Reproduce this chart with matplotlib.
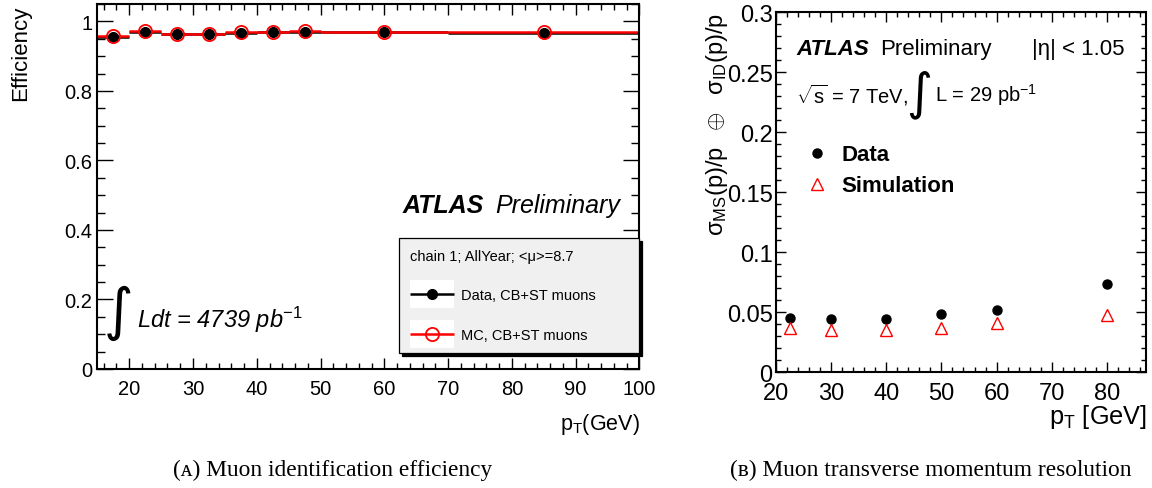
import matplotlib
matplotlib.use("Agg")
import matplotlib.pyplot as plt
from matplotlib.patches import Rectangle
from matplotlib.ticker import MultipleLocator, FormatStrFormatter
from matplotlib.container import ErrorbarContainer
from matplotlib.legend_handler import HandlerErrorbar

plt.rcParams['font.family'] = ['Liberation Sans', 'DejaVu Sans']
plt.rcParams['mathtext.fontset'] = 'custom'
plt.rcParams['mathtext.rm'] = 'Liberation Sans'
plt.rcParams['mathtext.it'] = 'Liberation Sans:italic'
plt.rcParams['mathtext.bf'] = 'Liberation Sans:bold'

# muon identification efficiency, pT bins in GeV
eff_bin_lo = [15, 20, 25, 30, 35, 40, 45, 50, 70]
eff_bin_hi = [20, 25, 30, 35, 40, 45, 50, 70, 100]
eff_data = [0.956, 0.970, 0.963, 0.963, 0.967, 0.969, 0.970, 0.970, 0.967]
eff_mc = [0.957, 0.971, 0.965, 0.965, 0.968, 0.970, 0.971, 0.970, 0.968]

# combined momentum resolution, |eta| < 1.05
res_pt = [22.5, 30, 40, 50, 60, 80]
res_data = [0.045, 0.044, 0.0444, 0.0486, 0.0517, 0.0733]
res_sim = [0.0364, 0.0347, 0.0347, 0.0369, 0.0408, 0.0475]


class BoxedErrorbar(HandlerErrorbar):
    # errorbar legend key sitting on a white box, ROOT style
    def create_artists(self, legend, orig_handle, xdescent, ydescent,
                       width, height, fontsize, trans):
        cy = (height - ydescent) / 2
        box = Rectangle((-xdescent, cy - 10), width, 20, facecolor='white',
                        edgecolor='none', transform=trans)
        arts = super().create_artists(legend, orig_handle, xdescent, ydescent,
                                      width, height, fontsize, trans)
        return [box] + list(arts)


def root_ticks(ax, xlen, ylen, size, xpad, ypad):
    ax.tick_params(which='both', direction='in', top=True, right=True, width=1.0)
    ax.tick_params(axis='x', which='major', length=xlen, pad=xpad, labelsize=size)
    ax.tick_params(axis='x', which='minor', length=xlen / 2)
    ax.tick_params(axis='y', which='major', length=ylen, pad=ypad, labelsize=size)
    ax.tick_params(axis='y', which='minor', length=ylen / 2)
    for s in ax.spines.values():
        s.set_linewidth(1.5)


fig = plt.figure(figsize=(11.52, 4.89), dpi=100)

# ---- (a) efficiency ----
ax1 = fig.add_axes([0.0845, 0.2434, 0.4705, 0.7464])
centers = [(a + b) / 2 for a, b in zip(eff_bin_lo, eff_bin_hi)]
half = [(b - a) / 2 for a, b in zip(eff_bin_lo, eff_bin_hi)]
h_data = ax1.errorbar(centers, eff_data, xerr=half, fmt='o', color='black', ms=7,
                      elinewidth=1.8, capsize=0, label='Data, CB+ST muons')
h_mc = ax1.errorbar(centers, eff_mc, xerr=half, fmt='o', color='red', mfc='none',
                    mec='red', ms=9.5, mew=1.3, elinewidth=1.8, capsize=0,
                    label='MC, CB+ST muons')
ax1.set_xlim(15, 100)
ax1.set_ylim(0, 1.05)
ax1.xaxis.set_major_locator(MultipleLocator(10))
ax1.xaxis.set_minor_locator(MultipleLocator(2))
ax1.yaxis.set_major_locator(MultipleLocator(0.2))
ax1.yaxis.set_minor_locator(MultipleLocator(0.05))
ax1.yaxis.set_major_formatter(FormatStrFormatter('%g'))
ax1.set_xticks([20, 30, 40, 50, 60, 70, 80, 90, 100])
root_ticks(ax1, 8, 11.5, 14.5, 7, 3.5)

leg = ax1.legend(handles=[h_data, h_mc], title='chain 1; AllYear; <\u03bc>=8.7',
                 title_fontsize=10.5, fontsize=10.5, loc='upper left',
                 bbox_to_anchor=(0.5566, 0.359, 0.4434, 0), mode='expand',
                 borderaxespad=0, alignment='left', handlelength=3,
                 handletextpad=0.5, labelspacing=1.75, borderpad=0.75,
                 fancybox=False, facecolor='#f0f0f0', edgecolor='black',
                 framealpha=1,
                 shadow={'facecolor': 'black', 'edgecolor': 'black', 'alpha': 1},
                 handler_map={ErrorbarContainer: BoxedErrorbar(xerr_size=1.5)})
leg.get_frame().set_linewidth(0.9)

ax1.text(0.5635, 0.449, 'ATLAS', transform=ax1.transAxes, fontsize=18,
         fontweight='bold', fontstyle='italic', va='center', ha='left')
ax1.text(0.734, 0.449, 'Preliminary', transform=ax1.transAxes, fontsize=18,
         fontstyle='italic', va='center', ha='left')
ax1.text(0.040, 0.156, '\u222b', transform=ax1.transAxes, fontsize=41,
         family='DejaVu Sans', va='center', ha='center')
ax1.text(0.074, 0.137, r'Ldt = 4739 pb$^{\mathit{-1}}$', fontstyle='italic',
         transform=ax1.transAxes, fontsize=17, va='center', ha='left')

fig.text(21 / 1152, 1 - 6 / 489, 'Efficiency', rotation=90, fontsize=16,
         ha='center', va='top')
fig.text(640 / 1152, 1 - 425 / 489, r'p$_{\mathrm{T}}$(GeV)', fontsize=15.5,
         ha='right', va='center')

# ---- (b) resolution ----
ax2 = fig.add_axes([0.6736, 0.2372, 0.3212, 0.7362])
h_d = ax2.plot(res_pt, res_data, 'o', color='black', ms=6.5, label='Data')[0]
h_s = ax2.plot(res_pt, res_sim, '^', color='red', mfc='none', mec='red', ms=8,
               mew=1.0, label='Simulation')[0]
ax2.set_xlim(20, 87.1)
ax2.set_ylim(0, 0.3)
ax2.xaxis.set_major_locator(MultipleLocator(10))
ax2.xaxis.set_minor_locator(MultipleLocator(2))
ax2.yaxis.set_major_locator(MultipleLocator(0.05))
ax2.yaxis.set_minor_locator(MultipleLocator(0.01))
ax2.yaxis.set_major_formatter(FormatStrFormatter('%g'))
root_ticks(ax2, 7, 7.5, 17, 7, 2.5)

ax2.legend(handles=[h_d, h_s], loc='upper left', bbox_to_anchor=(0.081, 0.632),
           frameon=False, prop={'weight': 'bold', 'size': 16}, handlelength=1,
           handletextpad=0.6, labelspacing=0.45, borderpad=0, borderaxespad=0,
           numpoints=1)

ax2.text(0.054, 0.9, 'ATLAS', transform=ax2.transAxes, fontsize=16,
         fontweight='bold', fontstyle='italic', va='center', ha='left')
ax2.text(0.281, 0.9, 'Preliminary', transform=ax2.transAxes, fontsize=16,
         va='center', ha='left')
ax2.text(0.943, 0.9, '|\u03b7| < 1.05', transform=ax2.transAxes, fontsize=16,
         va='center', ha='right')
ax2.text(0.054, 0.772, r'$\sqrt{\mathrm{s}}$ = 7 TeV,', transform=ax2.transAxes,
         fontsize=14.5, va='center', ha='left')
ax2.text(0.387, 0.772, '\u222b', transform=ax2.transAxes, fontsize=36,
         family='DejaVu Sans', va='center', ha='center')
ax2.text(0.430, 0.772, r'L = 29 pb$^{-1}$', transform=ax2.transAxes,
         fontsize=14.5, va='center', ha='left')

fig.text(717 / 1152, 1 - 13 / 489,
         r'$\mathrm{\sigma_{MS}(p)/p\ \ \oplus\ \ \sigma_{ID}(p)/p}$',
         rotation=90, fontsize=17, ha='center', va='top')
fig.text(1147 / 1152, 1 - 417 / 489, r'p$_{\mathrm{T}}$ [GeV]', fontsize=18.3,
         ha='right', va='center')

# captions
cap_font = ['Liberation Serif', 'DejaVu Serif']
fig.text(333 / 1152, 1 - 470 / 489, '(\u1d00) Muon identification efficiency',
         family=cap_font, fontsize=16.8, ha='center', va='center')
fig.text(931 / 1152, 1 - 470 / 489, '(\u0299) Muon transverse momentum resolution',
         family=cap_font, fontsize=16.8, ha='center', va='center')

fig.savefig('out.png', dpi=100)
